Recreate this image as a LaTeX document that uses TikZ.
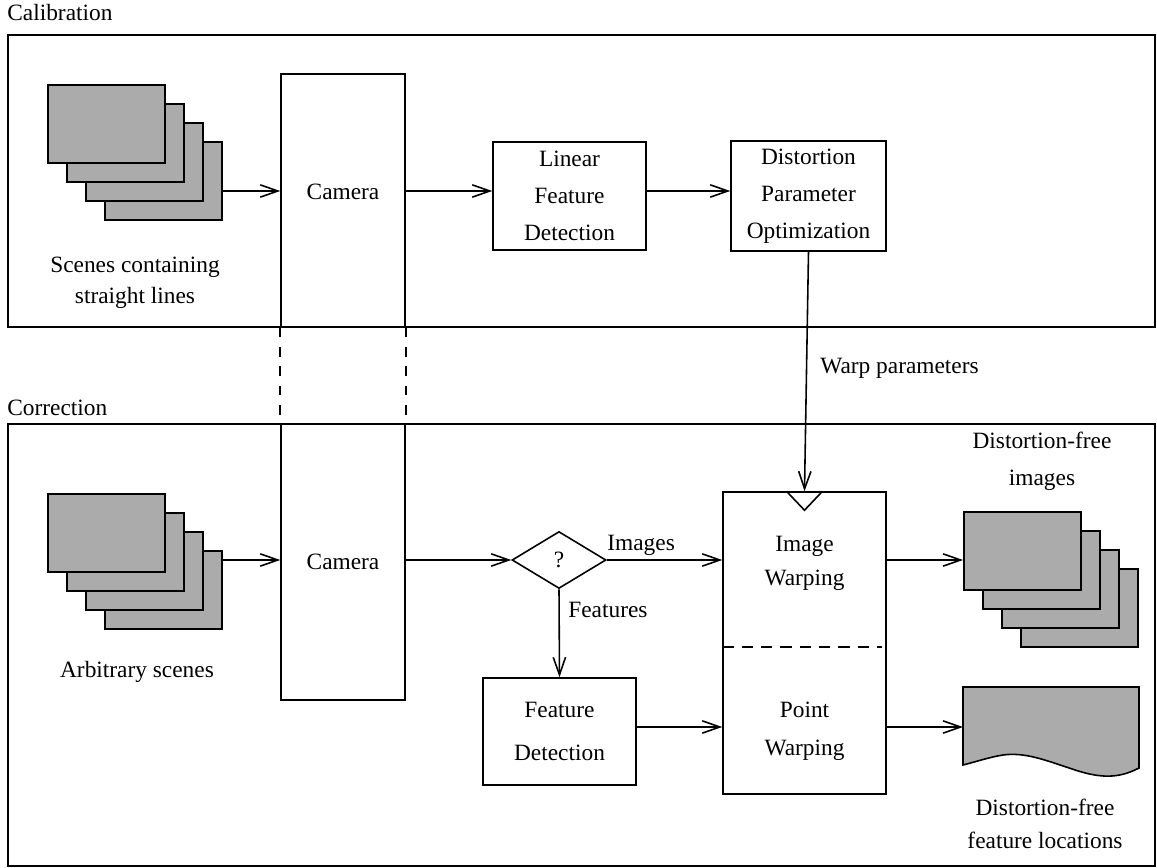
\documentclass[tikz,border=0pt]{standalone}
\usepackage{fontspec}
\setmainfont{Liberation Serif}
\usetikzlibrary{arrows.meta,shapes.geometric}
\newcommand\fsz[1]{\fontsize{13.3}{#1}\selectfont}
\begin{document}
\begin{tikzpicture}[x=0.02cm,y=-0.02cm,
  lw/.style={line width=0.9pt},
  box/.style={draw, lw, inner sep=0pt, align=center, font=\fsz{21}},
  lbl/.style={inner sep=0pt, align=center, font=\fsz{17.5}},
  arr/.style={lw, -{Straight Barb[length=10pt,width=7pt,line width=0.9pt]}},
  sheet/.style={draw, lw, fill=black!33},
  sheetnode/.style={sheet, inner sep=0pt, minimum width=2.34cm, minimum height=1.56cm, anchor=north west},
  dashln/.style={lw, dash pattern=on 5.5pt off 5.5pt}]
\useasboundingbox (0,0) rectangle (1157,868);

% frames
\draw[lw] (8,35) rectangle (1155,327);
\draw[lw] (8,424) rectangle (1155,866);
\node[lbl, anchor=west] (calt) at (7,13) {Calibration};
\node[lbl, anchor=west] (cort) at (7,408) {Correction};

% ---------- Calibration ----------
\foreach \i in {3,2,1,0} \node[sheetnode] (sA\i) at ({47+19*\i},{84+19*\i}) {};
\node[lbl, font=\fsz{17.6}] (sAt) at (135,282.5) {Scenes containing\\straight lines};

\node[draw, lw, inner sep=0pt, minimum width=2.48cm, minimum height=5.06cm] (cam1) at (343,200.5) {};
\node[lbl] (cam1t) at (343,192) {Camera};
\node[box, minimum width=3.06cm, minimum height=2.16cm] (lfd) at (569.5,196) {Linear\\Feature\\Detection};
\node[box, minimum width=3.10cm, minimum height=2.20cm] (dpo) at (808.5,196) {Distortion\\Parameter\\Optimization};

\coordinate (r1) at (0,191);
\draw[arr] (sA3.east |- r1) -- (cam1.west |- r1);
\draw[arr] (cam1.east |- r1) -- (lfd.west |- r1);
\draw[arr] (lfd.east |- r1) -- (dpo.west |- r1);

% ---------- Correction ----------
\node[draw, lw, inner sep=0pt, minimum width=2.48cm, minimum height=5.52cm, font=\fsz{17.5}] (cam2) at (343,562) {Camera};
\draw[dashln] (cam1.south west) -- (cam2.north west);
\draw[dashln] (cam1.south east) -- (cam2.north east);

\foreach \i in {3,2,1,0} \node[sheetnode] (sB\i) at ({47+19*\i},{493+19*\i}) {};
\node[lbl] (sBt) at (137,672) {Arbitrary scenes};

\node[draw, lw, diamond, inner sep=0pt, minimum width=1.88cm, minimum height=1.14cm, font=\fsz{16}] (dia) at (559,560) {?};

\node[draw, lw, inner sep=0pt, minimum width=3.26cm, minimum height=6.04cm] (warp) at (804.5,643) {};
\node[lbl, font=\fsz{19.5}] (iw) at (804.5,563) {Image\\Warping};
\node[lbl, font=\fsz{21.5}] (pw) at (804.5,731) {Point\\Warping};
\coordinate (wd) at (882,647);
\draw[lw, dash pattern=on 6.5pt off 4.5pt] (warp.west |- wd) -- (wd);
\draw[lw] ([xshift=-0.36cm]warp.north) -- ([yshift=-0.38cm]warp.north) -- ([xshift=0.36cm]warp.north);

\node[box, font=\fsz{24}, minimum width=3.06cm, minimum height=2.14cm] (fd) at (559.5,731.5) {Feature\\Detection};

\foreach \i in {3,2,1,0} \node[sheetnode] (sC\i) at ({963+19*\i},{511+19*\i}) {};
\node[lbl, font=\fsz{21}] (sCt) at (1042,461) {Distortion-free\\images};

\draw[sheet] (963,687) -- (1139,687) -- (1139,768)
  .. controls (1118,779) and (1100,778) .. (1075,770)
  .. controls (1045,760) and (1025,752) .. (1003,755)
  .. controls (990,757) and (975,762) .. (963,765) -- cycle;
\coordinate (docw) at (963,727);
\node[lbl, font=\fsz{18.7}] (doct) at (1045,823.5) {Distortion-free\\feature locations};

\coordinate (r2) at (0,560);
\coordinate (r3) at (0,727);
\draw[arr] (sB3.east |- r2) -- (cam2.west |- r2);
\draw[arr] (cam2.east |- r2) -- (dia.west);
\draw[arr] (dia.east) -- (warp.west |- dia.east);
\node[lbl, anchor=base west] (imgl) at (607,550) {Images};
\draw[arr] (dia.south) -- (fd.north);
\node[lbl, anchor=west] (featl) at (568,610) {Features};
\draw[arr] (fd.east |- r3) -- (warp.west |- r3);
\draw[arr] (dpo.south) -- (warp.north);
\node[lbl, anchor=west] (wpl) at (820,368) {Warp parameters};
\draw[arr] (warp.east |- r2) -- (sC0.west |- r2);
\draw[arr] (warp.east |- r3) -- (docw);
\end{tikzpicture}
\end{document}
